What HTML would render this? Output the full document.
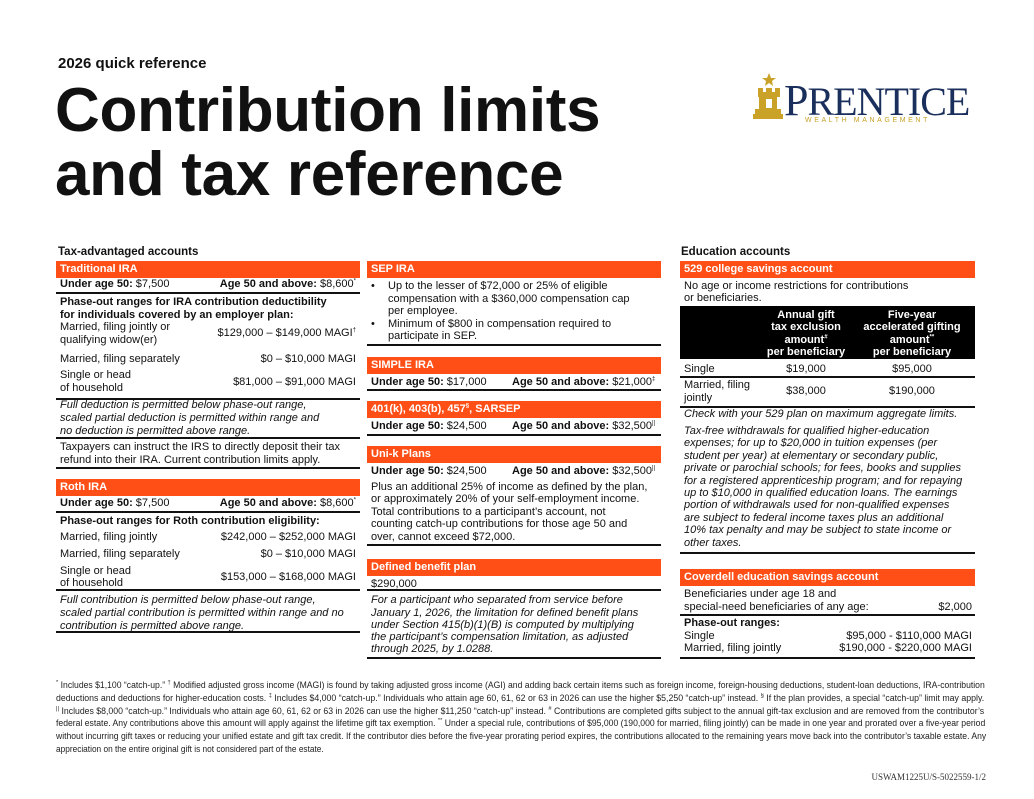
<!DOCTYPE html>
<html><head><meta charset="utf-8">
<style>
body{margin:0;background:#fff;width:1034px;height:799px;position:relative;overflow:hidden;font-family:"Liberation Sans",sans-serif;color:#111}
.t{position:absolute;white-space:nowrap;font-size:11px;line-height:13px}
.b{font-weight:bold}.i{font-style:italic}
.r{text-align:right}
.hr{position:absolute;height:1.5px;background:#111}
.bar{position:absolute;background:#ff4f17;color:#fff;font-weight:bold;font-size:11px;line-height:17px;padding-left:4px;box-sizing:border-box;height:17px}
.fn{position:absolute;left:56px;white-space:nowrap;font-family:"Liberation Sans Narrow","Liberation Sans",sans-serif;font-size:9px;line-height:12px;transform-origin:0 0;color:#222}
.c{text-align:center}
</style></head><body>
<div class="t b" style="left:58px;top:55px;font-size:15px;line-height:18px">2026 quick reference</div>
<div class="t b" style="left:55px;top:78px;font-size:62px;line-height:66px;letter-spacing:-0.3px">Contribution limits</div>
<div class="t b" style="left:55px;top:142px;font-size:62px;line-height:66px;letter-spacing:-0.3px">and tax reference</div>

<!-- logo -->
<svg style="position:absolute;left:752px;top:72px" width="34" height="48" viewBox="0 0 34 48">
<polygon points="17,1 19,6 24,6 20,9 21,14 17,11 13,14 14,9 10,6 15,6" fill="#c9a227"/>
<path d="M6 16h5v4h3v-4h6v4h3v-4h5v9h-3v12h4v5h2v5H1v-5h2v-5h4V25H6z" fill="#c9a227"/>
<rect x="14" y="27" width="6" height="9" fill="#fff"/>
</svg>
<div class="t" style="left:784px;top:80px;font-family:'Liberation Serif',serif;font-size:40px;line-height:42px;color:#1b2f5c;letter-spacing:-1px"><span style="font-size:44px">P</span>RENTICE</div>
<div class="t" style="left:805px;top:117px;font-size:7px;line-height:8px;color:#c9a227;letter-spacing:2.6px">WEALTH MANAGEMENT</div>

<!-- LEFT -->
<div class="t b" style="left:58px;top:246px;font-size:11.5px">Tax-advantaged accounts</div>
<div class="bar" style="left:56px;top:261px;width:304px">Traditional IRA</div>
<div class="t" style="left:60px;top:278px"><b>Under age 50:</b> $7,500</div>
<div class="t r" style="right:678px;top:278px"><b>Age 50 and above:</b> $8,600<sup style="font-size:6px">*</sup></div>
<div class="hr" style="left:56px;top:292px;width:304px"></div>
<div class="t b" style="left:60px;top:296px">Phase-out ranges for IRA contribution deductibility</div>
<div class="t b" style="left:60px;top:309px">for individuals covered by an employer plan:</div>
<div class="t" style="left:60px;top:321px">Married, filing jointly or</div>
<div class="t" style="left:60px;top:334px">qualifying widow(er)</div>
<div class="t r" style="right:678px;top:327px">$129,000 – $149,000 MAGI<sup style="font-size:6px">†</sup></div>
<div class="t" style="left:60px;top:353px">Married, filing separately</div>
<div class="t r" style="right:678px;top:353px">$0 – $10,000 MAGI</div>
<div class="t" style="left:60px;top:369px">Single or head</div>
<div class="t" style="left:60px;top:382px">of household</div>
<div class="t r" style="right:678px;top:376px">$81,000 – $91,000 MAGI</div>
<div class="hr" style="left:56px;top:398px;width:304px"></div>
<div class="t i" style="left:60px;top:399px">Full deduction is permitted below phase-out range,</div>
<div class="t i" style="left:60px;top:412px">scaled partial deduction is permitted within range and</div>
<div class="t i" style="left:60px;top:425px">no deduction is permitted above range.</div>
<div class="hr" style="left:56px;top:437px;width:304px"></div>
<div class="t" style="left:60px;top:441px">Taxpayers can instruct the IRS to directly deposit their tax</div>
<div class="t" style="left:60px;top:454px">refund into their IRA. Current contribution limits apply.</div>
<div class="hr" style="left:56px;top:467px;width:304px"></div>

<div class="bar" style="left:56px;top:479px;width:304px">Roth IRA</div>
<div class="t" style="left:60px;top:497px"><b>Under age 50:</b> $7,500</div>
<div class="t r" style="right:678px;top:497px"><b>Age 50 and above:</b> $8,600<sup style="font-size:6px">*</sup></div>
<div class="hr" style="left:56px;top:511px;width:304px"></div>
<div class="t b" style="left:60px;top:515px">Phase-out ranges for Roth contribution eligibility:</div>
<div class="t" style="left:60px;top:531px">Married, filing jointly</div>
<div class="t r" style="right:678px;top:531px">$242,000 – $252,000 MAGI</div>
<div class="t" style="left:60px;top:548px">Married, filing separately</div>
<div class="t r" style="right:678px;top:548px">$0 – $10,000 MAGI</div>
<div class="t" style="left:60px;top:565px">Single or head</div>
<div class="t" style="left:60px;top:577px">of household</div>
<div class="t r" style="right:678px;top:571px">$153,000 – $168,000 MAGI</div>
<div class="hr" style="left:56px;top:589px;width:304px"></div>
<div class="t i" style="left:60px;top:594px">Full contribution is permitted below phase-out range,</div>
<div class="t i" style="left:60px;top:607px">scaled partial contribution is permitted within range and no</div>
<div class="t i" style="left:60px;top:620px">contribution is permitted above range.</div>
<div class="hr" style="left:56px;top:631px;width:304px"></div>

<!-- MIDDLE -->
<div class="bar" style="left:367px;top:261px;width:294px">SEP IRA</div>
<div class="t" style="left:371px;top:280px">•</div>
<div class="t" style="left:388px;top:280px">Up to the lesser of $72,000 or 25% of eligible</div>
<div class="t" style="left:388px;top:293px">compensation with a $360,000 compensation cap</div>
<div class="t" style="left:388px;top:305px">per employee.</div>
<div class="t" style="left:371px;top:318px">•</div>
<div class="t" style="left:388px;top:318px">Minimum of $800 in compensation required to</div>
<div class="t" style="left:388px;top:330px">participate in SEP.</div>
<div class="hr" style="left:367px;top:344px;width:294px"></div>

<div class="bar" style="left:367px;top:357px;width:294px">SIMPLE IRA</div>
<div class="t" style="left:371px;top:376px"><b>Under age 50:</b> $17,000</div>
<div class="t" style="left:512px;top:376px"><b>Age 50 and above:</b> $21,000<sup style="font-size:6px">‡</sup></div>
<div class="hr" style="left:367px;top:389px;width:294px"></div>

<div class="bar" style="left:367px;top:401px;width:294px">401(k), 403(b), 457<sup style="font-size:6px">§</sup>, SARSEP</div>
<div class="t" style="left:371px;top:420px"><b>Under age 50:</b> $24,500</div>
<div class="t" style="left:512px;top:420px"><b>Age 50 and above:</b> $32,500<sup style="font-size:6px">||</sup></div>
<div class="hr" style="left:367px;top:434px;width:294px"></div>

<div class="bar" style="left:367px;top:446px;width:294px">Uni-k Plans</div>
<div class="t" style="left:371px;top:465px"><b>Under age 50:</b> $24,500</div>
<div class="t" style="left:512px;top:465px"><b>Age 50 and above:</b> $32,500<sup style="font-size:6px">||</sup></div>
<div class="t" style="left:371px;top:481px">Plus an additional 25% of income as defined by the plan,</div>
<div class="t" style="left:371px;top:493px">or approximately 20% of your self-employment income.</div>
<div class="t" style="left:371px;top:506px">Total contributions to a participant’s account, not</div>
<div class="t" style="left:371px;top:518px">counting catch-up contributions for those age 50 and</div>
<div class="t" style="left:371px;top:531px">over, cannot exceed $72,000.</div>
<div class="hr" style="left:367px;top:544px;width:294px"></div>

<div class="bar" style="left:367px;top:559px;width:294px">Defined benefit plan</div>
<div class="t" style="left:371px;top:578px">$290,000</div>
<div class="hr" style="left:367px;top:589px;width:294px"></div>
<div class="t i" style="left:371px;top:594px">For a participant who separated from service before</div>
<div class="t i" style="left:371px;top:607px">January 1, 2026, the limitation for defined benefit plans</div>
<div class="t i" style="left:371px;top:619px">under Section 415(b)(1)(B) is computed by multiplying</div>
<div class="t i" style="left:371px;top:631px">the participant’s compensation limitation, as adjusted</div>
<div class="t i" style="left:371px;top:643px">through 2025, by 1.0288.</div>
<div class="hr" style="left:367px;top:657px;width:294px"></div>

<!-- RIGHT -->
<div class="t b" style="left:681px;top:246px;font-size:11.5px">Education accounts</div>
<div class="bar" style="left:680px;top:261px;width:295px">529 college savings account</div>
<div class="t" style="left:684px;top:280px">No age or income restrictions for contributions</div>
<div class="t" style="left:684px;top:292px">or beneficiaries.</div>
<div style="position:absolute;left:680px;top:306px;width:295px;height:53px;background:#000"></div>
<div class="t b c" style="left:746px;width:120px;top:309px;color:#fff;line-height:12.4px;white-space:normal">Annual gift<br>tax exclusion<br>amount<sup style="font-size:6px">#</sup><br>per beneficiary</div>
<div class="t b c" style="left:847px;width:130px;top:309px;color:#fff;line-height:12.4px;white-space:normal">Five-year<br>accelerated gifting<br>amount<sup style="font-size:6px">**</sup><br>per beneficiary</div>
<div class="t" style="left:684px;top:363px">Single</div>
<div class="t c" style="left:766px;width:80px;top:363px">$19,000</div>
<div class="t c" style="left:872px;width:80px;top:363px">$95,000</div>
<div class="hr" style="left:680px;top:376px;width:295px"></div>
<div class="t" style="left:684px;top:379px">Married, filing</div>
<div class="t" style="left:684px;top:392px">jointly</div>
<div class="t c" style="left:766px;width:80px;top:385px">$38,000</div>
<div class="t c" style="left:872px;width:80px;top:385px">$190,000</div>
<div class="hr" style="left:680px;top:406px;width:295px"></div>
<div class="t i" style="left:684px;top:408px">Check with your 529 plan on maximum aggregate limits.</div>
<div class="t i" style="left:684px;top:425px;line-height:12.4px">Tax-free withdrawals for qualified higher-education<br>expenses; for up to $20,000 in tuition expenses (per<br>student per year) at elementary or secondary public,<br>private or parochial schools; for fees, books and supplies<br>for a registered apprenticeship program; and for repaying<br>up to $10,000 in qualified education loans. The earnings<br>portion of withdrawals used for non-qualified expenses<br>are subject to federal income taxes plus an additional<br>10% tax penalty and may be subject to state income or<br>other taxes.</div>
<div class="hr" style="left:680px;top:552px;width:295px"></div>

<div class="bar" style="left:680px;top:569px;width:295px">Coverdell education savings account</div>
<div class="t" style="left:684px;top:588px">Beneficiaries under age 18 and</div>
<div class="t" style="left:684px;top:601px">special-need beneficiaries of any age:</div>
<div class="t r" style="right:62px;top:601px">$2,000</div>
<div class="hr" style="left:680px;top:614px;width:295px"></div>
<div class="t b" style="left:684px;top:617px">Phase-out ranges:</div>
<div class="t" style="left:684px;top:630px">Single</div>
<div class="t r" style="right:62px;top:630px">$95,000 - $110,000 MAGI</div>
<div class="t" style="left:684px;top:642px">Married, filing jointly</div>
<div class="t r" style="right:62px;top:642px">$190,000 - $220,000 MAGI</div>
<div class="hr" style="left:680px;top:657px;width:295px"></div>

<!-- footnotes -->
<div class="fn" data-w="930" style="top:679px"><sup>*</sup> Includes $1,100 “catch-up.” <sup>†</sup> Modified adjusted gross income (MAGI) is found by taking adjusted gross income (AGI) and adding back certain items such as foreign income, foreign-housing deductions, student-loan deductions, IRA-contribution</div>
<div class="fn" data-w="930" style="top:692px">deductions and deductions for higher-education costs. <sup>‡</sup> Includes $4,000 “catch-up.” Individuals who attain age 60, 61, 62 or 63 in 2026 can use the higher $5,250 “catch-up” instead. <sup>§</sup> If the plan provides, a special “catch-up” limit may apply.</div>
<div class="fn" data-w="930" style="top:705px"><sup>||</sup> Includes $8,000 “catch-up.” Individuals who attain age 60, 61, 62 or 63 in 2026 can use the higher $11,250 “catch-up” instead. <sup>#</sup> Contributions are completed gifts subject to the annual gift-tax exclusion and are removed from the contributor’s</div>
<div class="fn" data-w="930" style="top:717px">federal estate. Any contributions above this amount will apply against the lifetime gift tax exemption. <sup>**</sup> Under a special rule, contributions of $95,000 (190,000 for married, filing jointly) can be made in one year and prorated over a five-year period</div>
<div class="fn" data-w="930" style="top:730px">without incurring gift taxes or reducing your unified estate and gift tax credit. If the contributor dies before the five-year prorating period expires, the contributions allocated to the remaining years move back into the contributor’s taxable estate. Any</div>
<div class="fn" data-w="268" style="top:743px">appreciation on the entire original gift is not considered part of the estate.</div>
<div class="t" style="right:48px;top:771px;font-family:'Liberation Serif',serif;font-size:9px;color:#333">USWAM1225U/S-5022559-1/2</div>
<script>
document.querySelectorAll('.fn').forEach(function(e){var w=+e.getAttribute('data-w');var a=e.scrollWidth;if(a>0)e.style.transform='scaleX('+(w/a)+')';});
document.querySelectorAll('sup').forEach(function(s){s.style.fontSize=s.style.fontSize||'6px';s.style.lineHeight='0';});
</script>
</body></html>
